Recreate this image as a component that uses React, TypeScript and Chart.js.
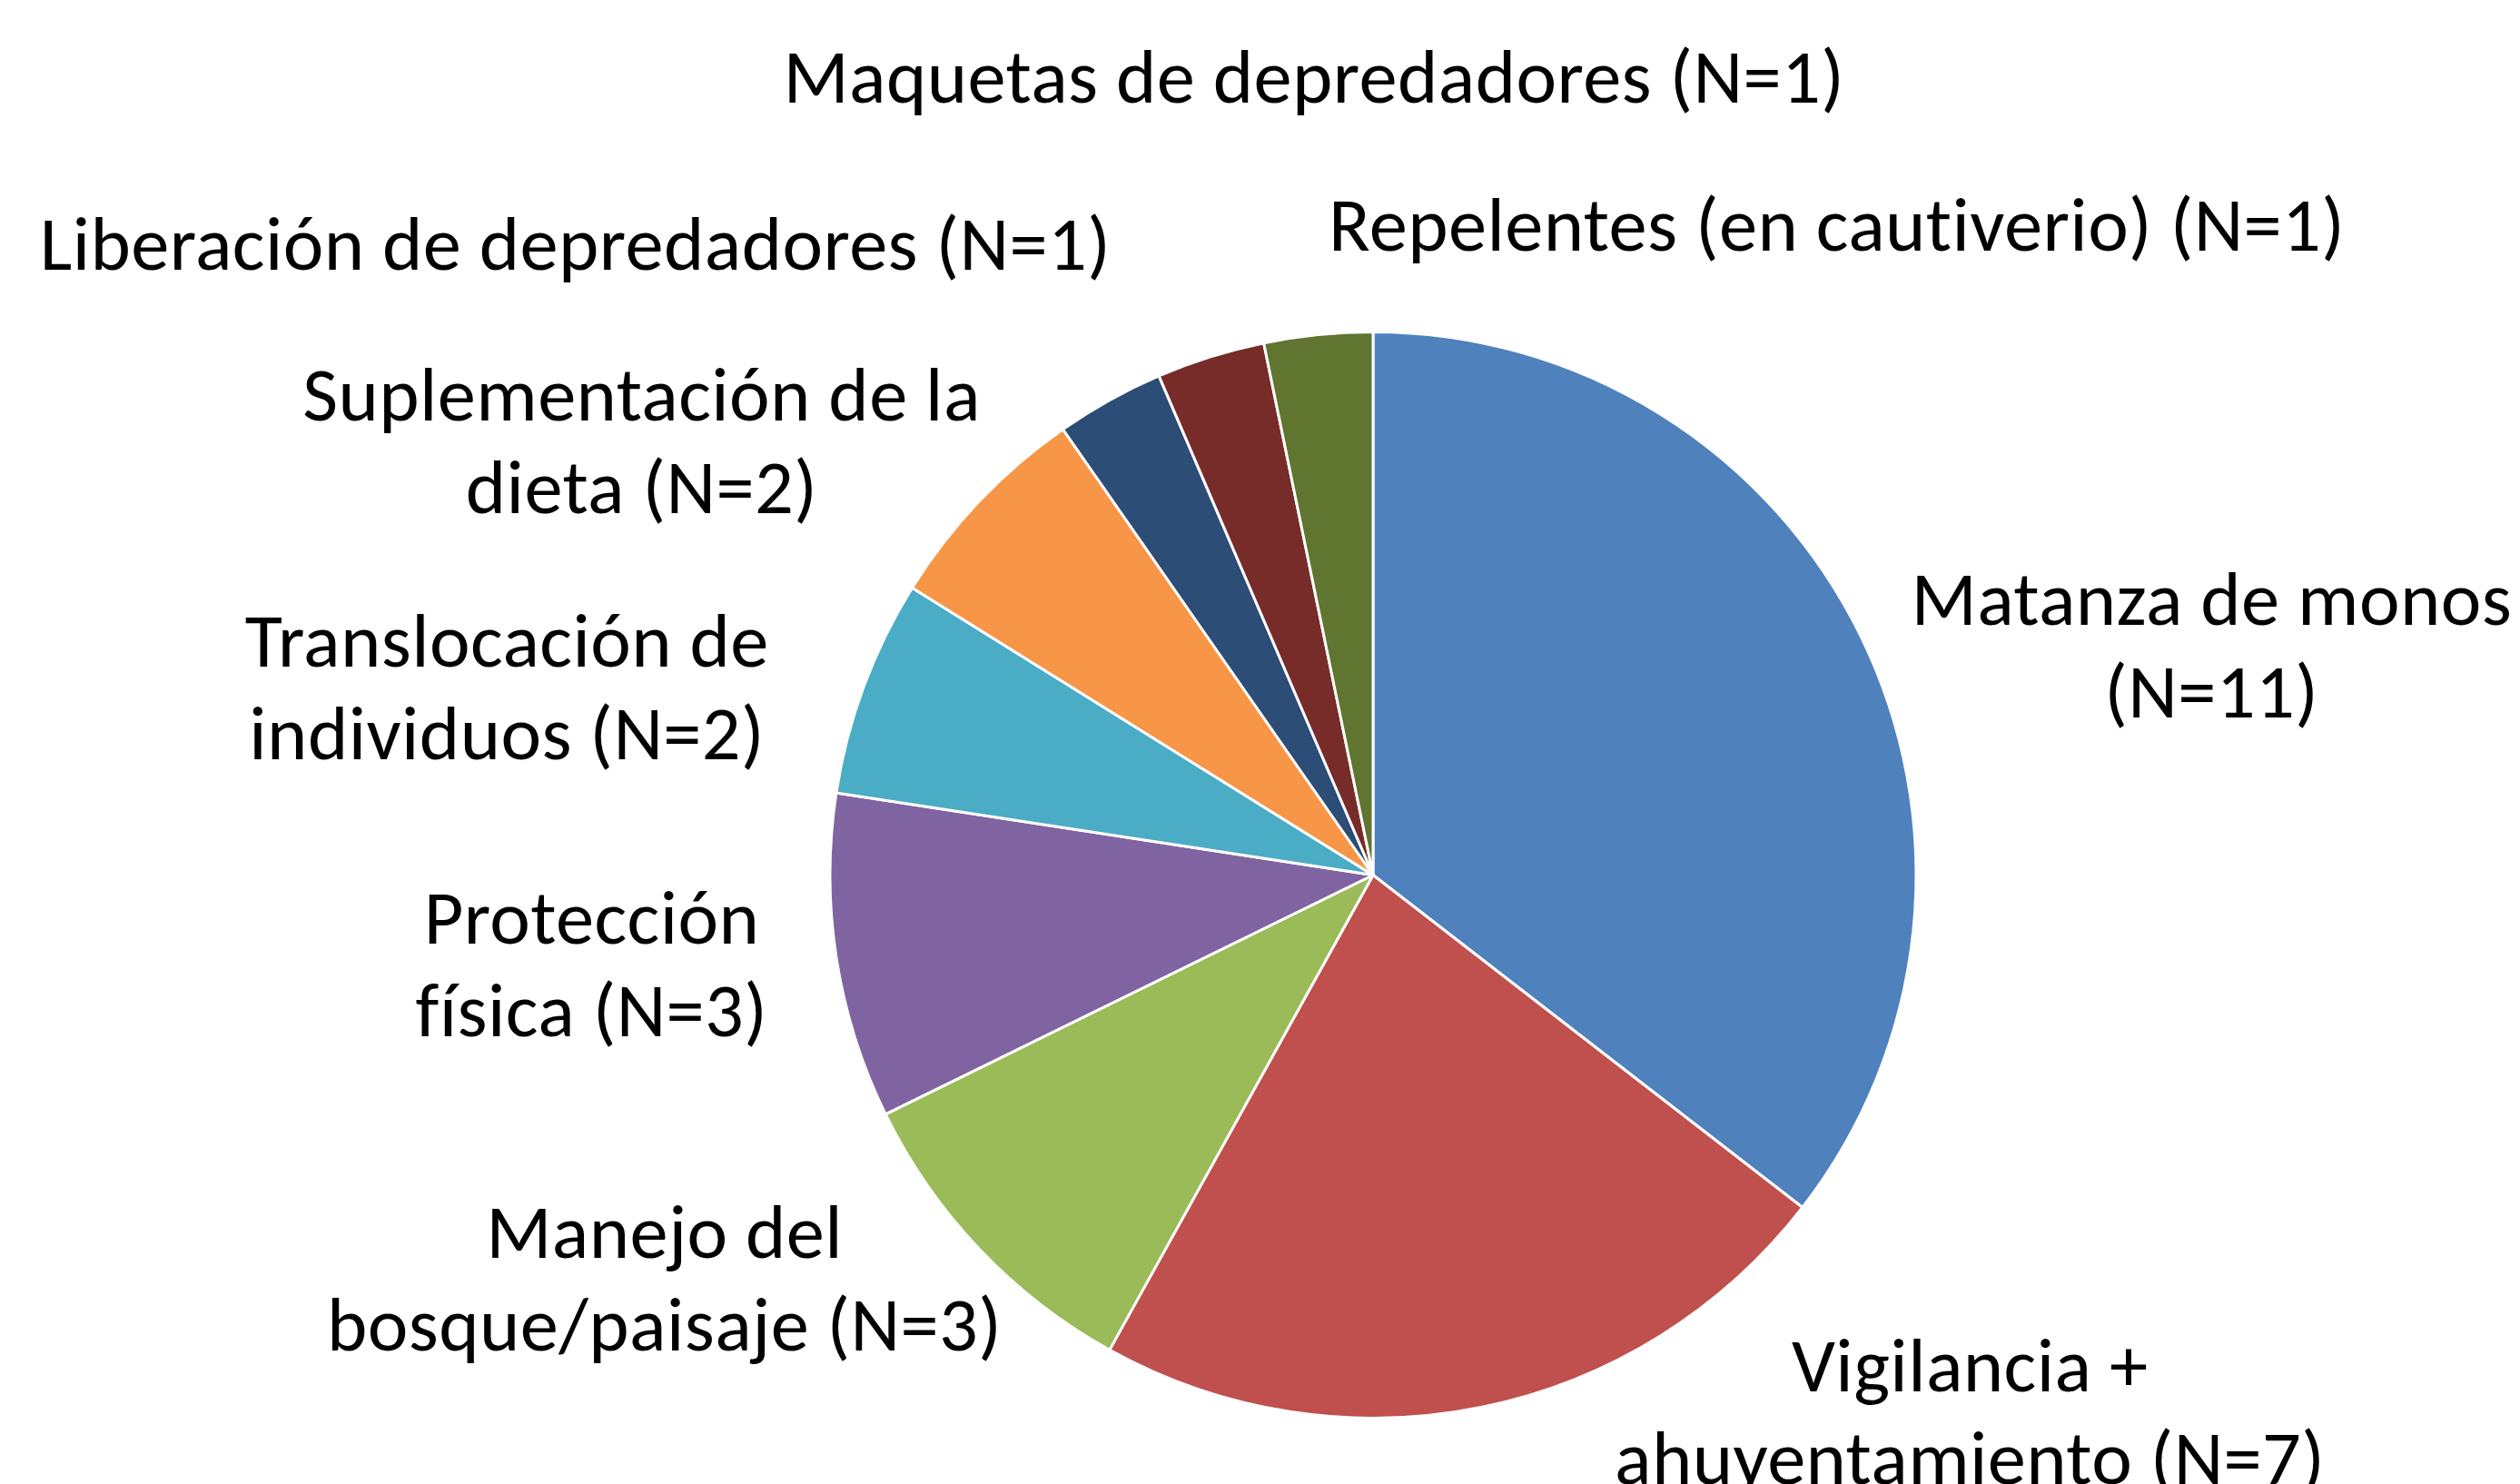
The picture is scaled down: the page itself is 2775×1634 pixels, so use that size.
import React, { useEffect, useRef } from "react";
import { Chart, registerables } from "chart.js";

Chart.register(...registerables);

const categories: string[][] = [
  ["Matanza de monos", "(N=11)"],
  ["Vigilancia +", "ahuyentamiento (N=7)"],
  ["Manejo del", "bosque/paisaje (N=3)"],
  ["Protección", "física (N=3)"],
  ["Translocación de", "individuos (N=2)"],
  ["Suplementación de la", "dieta (N=2)"],
  ["Liberación de depredadores (N=1)"],
  ["Maquetas de depredadores (N=1)"],
  ["Repelentes (en cautiverio) (N=1)"],
];
const values: number[] = [11, 7, 3, 3, 2, 2, 1, 1, 1];
const colors: string[] = [
  "#4F81BD",
  "#C0504D",
  "#9BBB59",
  "#8064A2",
  "#4BACC6",
  "#F79646",
  "#2C4D75",
  "#772C2A",
  "#5F7530",
];
// label anchor (text centre x, first baseline) relative to pie centre, in radius units
const labelOffsets: [number, number][] = [
  [1.544, -0.46],
  [1.099, 0.95],
  [-1.305, 0.705],
  [-1.439, 0.126],
  [-1.595, -0.383],
  [-1.347, -0.837],
  [-1.469, -1.114],
  [-0.109, -1.423],
  [0.854, -1.15],
];

const FONT_SIZE = 84.5;
const LINE_H = 102;
const FONT_FAMILY = "Carlito, Lato, 'Open Sans', sans-serif";

const labelPlugin = {
  id: "pieLabels",
  afterDatasetsDraw(chart: any) {
    const meta = chart.getDatasetMeta(0);
    const ctx = chart.ctx;
    ctx.save();
    ctx.fillStyle = "#000";
    ctx.font = `${FONT_SIZE}px ${FONT_FAMILY}`;
    try {
      (ctx as any).letterSpacing = "0.4px";
    } catch (e) {}
    ctx.textAlign = "center";
    ctx.textBaseline = "alphabetic";
    meta.data.forEach((arc: any, i: number) => {
      const { x, y, outerRadius } = arc.getProps(["x", "y", "outerRadius"], true);
      const [dx, dy] = labelOffsets[i];
      const lx = x + dx * outerRadius;
      const ly = y + dy * outerRadius;
      categories[i].forEach((line, j) => {
        ctx.fillText(line, lx, ly + j * LINE_H);
      });
    });
    ctx.restore();
  },
};

export default function App() {
  const ref = useRef<HTMLCanvasElement | null>(null);
  useEffect(() => {
    if (!ref.current) return;
    const chart = new Chart(ref.current, {
      type: "pie",
      data: {
        labels: categories.map((c) => c.join(" ")),
        datasets: [
          {
            data: values,
            backgroundColor: colors,
            borderColor: "#FFFFFF",
            borderWidth: 3,
          },
        ],
      },
      options: {
        animation: false,
        responsive: false,
        maintainAspectRatio: false,
        layout: { padding: { left: 912, right: 663, top: 364, bottom: 71 } },
        plugins: {
          legend: { display: false },
          tooltip: { enabled: false },
          title: { display: false },
        },
      },
      plugins: [labelPlugin],
    });
    return () => chart.destroy();
  }, []);
  return (
    <div style={{ position: "fixed", left: 0, top: 0, width: 2775, height: 1634, background: "#fff" }}>
      <canvas ref={ref} width={2775} height={1634} style={{ width: 2775, height: 1634 }} />
    </div>
  );
}
